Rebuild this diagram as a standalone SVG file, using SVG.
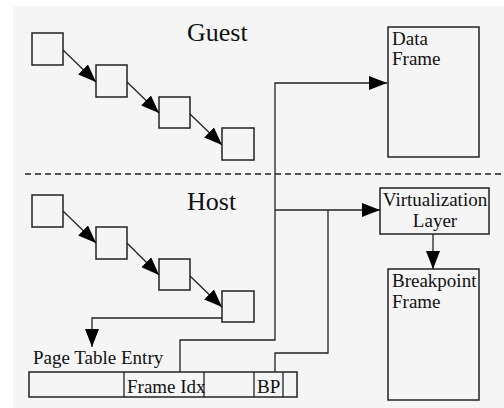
<svg xmlns="http://www.w3.org/2000/svg" width="504" height="408" viewBox="0 0 504 408">
<defs>
<style>
.box{fill:none;stroke:#222;stroke-width:1.5}
.ln{fill:none;stroke:#222;stroke-width:1.3}
.t{font-family:"Liberation Serif","Times New Roman",serif;fill:#111}
.big{font-size:26px}
.sm{font-size:19px}
</style>
<marker id="ah" viewBox="0 0 18 14" refX="18" refY="7" markerWidth="18" markerHeight="14" markerUnits="userSpaceOnUse" orient="auto">
<path d="M0,0 L18,7 L0,14 Z" fill="#000"/>
</marker>
</defs>
<rect x="0" y="0" width="504" height="408" fill="#fff"/>
<rect x="13" y="6" width="491" height="402" fill="#f5f5f5"/>
<line x1="25" y1="174" x2="504" y2="174" stroke="#222" stroke-width="1.3" stroke-dasharray="6,4"/>
<text class="t big" x="187" y="41">Guest</text>
<text class="t big" x="187" y="210">Host</text>
<g id="g1"><rect class="box" x="32" y="33" width="31" height="32"/></g>
<g id="g2"><rect class="box" x="96" y="65" width="31" height="32"/></g>
<g id="g3"><rect class="box" x="159" y="97" width="31" height="31"/></g>
<g id="g4"><rect class="box" x="222" y="128" width="32" height="32"/></g>
<g id="h1"><rect class="box" x="32" y="195" width="31" height="32"/></g>
<g id="h2"><rect class="box" x="96" y="227" width="31" height="32"/></g>
<g id="h3"><rect class="box" x="159" y="259" width="31" height="31"/></g>
<g id="h4"><rect class="box" x="222" y="291" width="32" height="31"/></g>
<g id="pte">
<text class="t sm" x="33" y="364">Page Table Entry</text>
<rect class="box" x="29" y="372" width="268" height="25"/>
<line class="ln" x1="124" y1="372" x2="124" y2="397"/>
<line class="ln" x1="204" y1="372" x2="204" y2="397"/>
<line class="ln" x1="254" y1="372" x2="254" y2="397"/>
<line class="ln" x1="283" y1="372" x2="283" y2="397"/>
<text class="t sm" x="127" y="393">Frame Idx</text>
<text class="t sm" x="257" y="393">BP</text>
</g>
<g id="dataframe">
<rect class="box" x="388" y="27" width="91" height="130"/>
<text class="t sm" x="392" y="45">Data</text>
<text class="t sm" x="392" y="65">Frame</text>
</g>
<g id="virt">
<rect class="box" x="380" y="188" width="109" height="46"/>
<text class="t sm" x="435" y="206" text-anchor="middle">Virtualization</text>
<text class="t sm" x="435" y="227" text-anchor="middle">Layer</text>
</g>
<g id="bpframe">
<rect class="box" x="388" y="269" width="91" height="131"/>
<text class="t sm" x="392" y="287">Breakpoint</text>
<text class="t sm" x="392" y="308">Frame</text>
</g>
<g id="connectors">
<line class="ln" x1="63" y1="50" x2="96" y2="82" marker-end="url(#ah)"/>
<line class="ln" x1="127" y1="82" x2="159" y2="113" marker-end="url(#ah)"/>
<line class="ln" x1="190" y1="114" x2="222" y2="145" marker-end="url(#ah)"/>
<line class="ln" x1="63" y1="211" x2="96" y2="243" marker-end="url(#ah)"/>
<line class="ln" x1="127" y1="243" x2="159" y2="275" marker-end="url(#ah)"/>
<line class="ln" x1="190" y1="276" x2="222" y2="307" marker-end="url(#ah)"/>
<polyline class="ln" points="222,318 92,318 92,347" marker-end="url(#ah)"/>
<polyline class="ln" points="180,372 180,340 275,340 275,83 387,83" marker-end="url(#ah)"/>
<polyline class="ln" points="275,210 380,210" marker-end="url(#ah)"/>
<polyline class="ln" points="275,372 275,353 328,353 328,210"/>
<line class="ln" x1="433" y1="234" x2="433" y2="269" marker-end="url(#ah)"/>
</g>
</svg>
